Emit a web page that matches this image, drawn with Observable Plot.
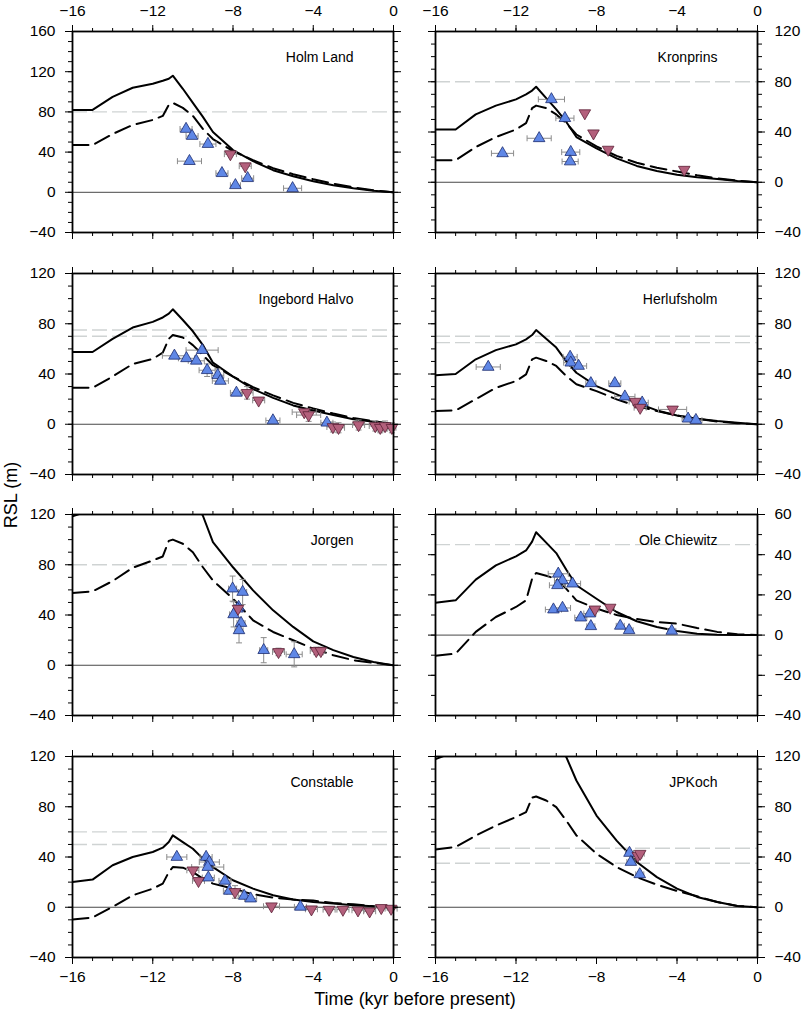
<!DOCTYPE html>
<html><head><meta charset="utf-8">
<script src="https://cdn.jsdelivr.net/npm/d3@7"></script>
<script src="https://cdn.jsdelivr.net/npm/@observablehq/plot@0.6"></script>
<style>
body{margin:0;background:#fff;font-family:"Liberation Sans",Arial,sans-serif;}
#root{position:relative;width:802px;height:1012px;overflow:hidden;}
#root svg{position:absolute;}
.lab{position:absolute;font-size:18px;color:#000;white-space:nowrap;}
</style></head><body><div id="root"></div>
<script>
// Model time grid (kyr before present)
const T = [-16,-15,-14,-13,-12,-11.5,-11.2,-11,-10.5,-10,-9.5,-9,-8,-7,-6,-5,-4,-3,-2,-1,0];

// Panel names
const names = ["Holm Land","Kronprins","Ingebord Halvo","Herlufsholm","Jorgen","Ole Chiewitz","Constable","JPKoch"];

// Model curves: solid and dashed, values at T
const holmSolid = [82,82,95,104,108,111,113,116,103,89,75,60,42,31,22,16,11,7,4,1.5,0];
const holmDash  = [47,47,58,67,72,76,87,89,84,76,63,53,41,32,24,18,13,8.5,5,2,0];
const kronSolid = [42,42,54,61,66,70,73,76,67,58,48,36,27,19,13,9,6,4,2.5,1,0];
const kronDash  = [17.5,17.5,28,36,42,47,59,61,59,54,47,38,28.5,21,15.5,11.5,8.5,5.5,3,1.3,0];
const ingeSolid = [57.5,57.5,68,77,81.5,85,88,91.5,83,74,63,49,38,28,21,15,11,7.3,4,2,0];
const ingeDash  = [29,29,38,48,52,57,68,71,69,63,55,47,38,29.5,23,17,12.5,8.5,5,2.5,0];
const herlSolid = [39,40,51.7,59,63.6,67.6,71,75,68,61,50,41,30.4,23.8,17,11,7,4.4,2.5,1.2,0];
const herlDash  = [10.5,11,20,29,34.4,39.7,51.7,53,50.4,46.4,38.4,31.8,26.4,19.8,14.5,10.5,7,4.4,2.2,0.8,0];
const jorgSolid = [118.5,124,138,148,154,158,162,165,150,134,119,98,78,59.6,43.7,30.5,19,12,6.6,2.6,0];
const jorgDash  = [57.5,58.8,67,77.6,83.4,86.6,99,100,96.7,90,78,67.5,53,35.8,26.5,19.9,13.2,8,4,1.9,0];
const oleSolid  = [16.1,17.3,27.6,34.7,39.2,42.1,46.5,51.2,46,40.8,32.5,24.8,18.1,11.5,6.9,4,2,0.7,0.2,0.1,0];
const oleDash   = [-10.3,-9.2,1.6,9,14,17.3,28,30.9,29.5,28,23,17.3,13.2,10,8,6.5,5.7,3.5,1.6,0.4,0];
const consSolid = [20.1,22,33.4,40,44,47.4,52,57.2,51.9,46.6,38.7,32,21.5,14.8,9.5,6.1,4.2,2.9,1.6,0.8,0];
const consDash  = [-9.8,-8.2,0.3,9.5,14.8,18.8,28,32,31.5,28,22.8,18.8,14.8,10.3,7.7,6.1,5.3,3.4,2.4,0.8,0];
const jpkSolid  = [117.9,124,135,145,152,156,160,163,148,133,119.5,100.9,73,53,36,24,14.8,8.2,4.2,1,0];
const jpkDash   = [46,48,57,65,71.8,75.8,87.2,88.2,85,79.7,69,57.2,42.6,32,24,18,13,8.7,4.2,1,0];

// Observations: [time kyr, RSL m, time error, RSL error]
const holmUp = [[-10.34,63,0.3,0],[-10.04,56,0.3,0],[-9.25,48,0.4,0],[-10.17,31,0.6,0],[-8.55,19,0.3,0],[-7.88,7,0.25,0],[-7.27,14,0.3,0],[-5.03,4,0.45,0]];
const holmDown = [[-8.13,38,0.3,0],[-7.39,26,0.3,0]];
const kronUp = [[-12.67,23,0.55,0],[-10.85,35,0.6,0],[-10.24,66,0.65,0],[-9.57,51,0.45,0],[-9.28,24,0.45,0],[-9.31,16.5,0.4,0]];
const kronDown = [[-8.58,55,0,0],[-8.15,39,0,0],[-7.42,26,0,0],[-3.64,10,0,0]];
const ingeUp = [[-10.92,54.5,0.6,0],[-10.32,52.5,0.4,0],[-9.83,50.5,0.4,0],[-9.54,59,0.8,0],[-9.29,43,0.4,5],[-8.76,39,0.3,5],[-8.63,34.5,0.4,0],[-7.83,25,0.3,0],[-6.01,3,0.35,0],[-3.32,1.2,0.3,0]];
const ingeDown = [[-7.3,25,0.3,5],[-6.72,19,0.3,0],[-4.45,9.7,0.6,0],[-4.23,7.3,0.6,5],[-3.02,-2.2,0.3,4],[-2.74,-2.8,0.3,4],[-1.74,-0.6,0.3,4],[-0.91,-1.4,0.3,4],[-0.66,-2.8,0.2,4],[-0.42,-1.4,0.3,4],[-0.08,-2.8,0.2,4]];
const herlUp = [[-13.38,45.6,0.6,0],[-9.31,53.6,0.35,0],[-9.28,49,0.35,0],[-8.89,46.4,0.4,0],[-8.28,32.6,0.25,0],[-7.09,32.6,0.3,0],[-6.59,22,0.5,0],[-5.73,17.2,0.3,0],[-3.45,4.4,0.3,0],[-3.06,3.3,0.3,0]];
const herlDown = [[-6.08,18,0.3,0],[-5.83,13.2,0.3,0],[-4.22,11.8,0.7,0]];
const jorgUp = [[-8.02,61,0.2,10],[-7.52,58.3,0.2,10],[-7.72,46.4,0.2,0],[-7.77,45,0.2,0],[-7.97,40.5,0.2,10],[-7.6,33.6,0.2,0],[-7.7,27.8,0.2,10],[-6.47,12,0.2,10],[-4.95,8.7,0.4,10]];
const jorgDown = [[-7.75,45,0.2,0],[-5.73,10.6,0.3,3],[-3.85,11.4,0.3,3],[-3.62,11.4,0.2,3]];
const oleUp = [[-9.9,30.5,0.5,0],[-9.69,27.2,0.4,0],[-9.94,24.8,0.4,0],[-9.19,25.6,0.4,0],[-10.14,12.7,0.4,0],[-9.69,13.5,0.4,0],[-8.78,8.7,0.3,0],[-8.33,10.7,0.3,0],[-8.28,4.4,0.2,0],[-6.82,4.6,0.2,0],[-6.38,2.4,0.2,0],[-4.26,2.1,0.2,0]];
const oleDown = [[-8.08,12.8,0.2,0],[-7.32,13.7,0.2,0]];
const consUp = [[-10.8,40,0.5,0],[-9.34,40,0.3,0],[-9.18,36,0.5,0],[-9.26,32,0.8,0],[-9.23,23.6,0.3,0],[-8.4,21,0.3,0],[-8.18,13,0.3,0],[-7.44,9,0.3,0],[-7.12,6.9,0.3,0],[-4.64,0.3,0.3,0]];
const consDown = [[-10.0,29.4,0.3,0],[-9.72,21,0.3,0],[-7.9,12.2,0.4,5],[-6.08,0.8,0.4,0],[-4.09,-1.6,0.3,0],[-3.21,-1.9,0.3,0],[-2.52,-1.9,0.3,0],[-1.77,-2.4,0.3,0],[-1.19,-3.2,0.3,0],[-0.61,-0.5,0.3,0],[-0.12,-1.1,0.3,0]];
const jpkUp = [[-6.36,43.2,0.2,0],[-6.29,36,0.2,0],[-5.85,26.2,0.2,0]];
const jpkDown = [[-5.95,41,0.2,0],[-5.83,42.6,0.2,0]];

// Grey dashed reference levels
const holmRef = [80], kronRef = [80], ingeRef = [75,70], herlRef = [70,65], jorgRef = [80], oleRef = [45], consRef = [60,50], jpkRef = [47,35];

// y-axis domains and label steps
const yDomains = [[-40,160],[-40,120],[-40,120],[-40,120],[-40,120],[-40,60],[-40,120],[-40,120]];
const yLabelSteps = [40,40,40,40,40,20,40,40];
const xLabelTicks = [-16,-12,-8,-4,0];

const panels = [
  [holmSolid,holmDash,holmUp,holmDown,holmRef],
  [kronSolid,kronDash,kronUp,kronDown,kronRef],
  [ingeSolid,ingeDash,ingeUp,ingeDown,ingeRef],
  [herlSolid,herlDash,herlUp,herlDown,herlRef],
  [jorgSolid,jorgDash,jorgUp,jorgDown,jorgRef],
  [oleSolid,oleDash,oleUp,oleDown,oleRef],
  [consSolid,consDash,consUp,consDown,consRef],
  [jpkSolid,jpkDash,jpkUp,jpkDown,jpkRef]
].map((a,i) => ({name:names[i], solid:a[0], dash:a[1], up:a[2], down:a[3], refs:a[4], yDomain:yDomains[i], yStep:yLabelSteps[i]}));

const fmt = d => d < 0 ? "\u2212" + (-d) : String(d);
const blank = () => "";
const vbar = {draw(ctx){ ctx.moveTo(0,-3); ctx.lineTo(0,3); }};
const hbar = {draw(ctx){ ctx.moveTo(-3,0); ctx.lineTo(3,0); }};
const downTri = {draw(ctx, size){
  const y = Math.sqrt(size / (Math.sqrt(3) * 3));
  ctx.moveTo(0, 2*y); ctx.lineTo(-Math.sqrt(3)*y, -y); ctx.lineTo(Math.sqrt(3)*y, -y); ctx.closePath();
}};

const frameTops = [31, 273, 514, 756];
const FH = 201, MT = 31, MB = 35;
const root = document.getElementById("root");
const errColor = "#8c8c8c";
const upFill = "#5f87e6", upStroke = "#1d2c6e";
const dnFill = "#b3607c", dnStroke = "#5c2036";

function errMarks(pts) {
  const h = pts.filter(d => d[2] > 0), v = pts.filter(d => d[3] > 0);
  return [
    Plot.link(h, {x1: d => d[0]-d[2], x2: d => d[0]+d[2], y1: d => d[1], y2: d => d[1], stroke: errColor, strokeWidth: 1}),
    Plot.dot(h, {x: d => d[0]-d[2], y: d => d[1], symbol: vbar, fill: "none", stroke: errColor, strokeWidth: 1}),
    Plot.dot(h, {x: d => d[0]+d[2], y: d => d[1], symbol: vbar, fill: "none", stroke: errColor, strokeWidth: 1}),
    Plot.link(v, {x1: d => d[0], x2: d => d[0], y1: d => d[1]-d[3], y2: d => d[1]+d[3], stroke: errColor, strokeWidth: 1}),
    Plot.dot(v, {x: d => d[0], y: d => d[1]-d[3], symbol: hbar, fill: "none", stroke: errColor, strokeWidth: 1}),
    Plot.dot(v, {x: d => d[0], y: d => d[1]+d[3], symbol: hbar, fill: "none", stroke: errColor, strokeWidth: 1})
  ];
}

panels.forEach((p, i) => {
  const row = Math.floor(i / 2), col = i % 2;
  const [y0, y1] = p.yDomain;
  const yMajor = d3.range(y0, y1 + 1e-9, p.yStep);
  const yMinor = d3.range(y0, y1 + 1e-9, 10);
  const xMinor = d3.range(-16, 0.001, 1);
  const left = col === 0;
  const W = left ? 400 : 402;
  const ML = left ? 72 : 35, MR = left ? 7 : 45;
  const chart = Plot.plot({
    width: W, height: MT + FH + MB,
    marginTop: MT, marginBottom: MB, marginLeft: ML, marginRight: MR,
    x: {domain: [-16, 0], axis: null, label: null},
    y: {domain: [y0, y1], axis: null, label: null},
    style: {background: "transparent", fontSize: "15.5px", fontFamily: "'Liberation Sans', Arial, sans-serif", overflow: "visible", color: "black"},
    marks: [
      Plot.ruleY(p.refs, {stroke: "#cfd3d3", strokeWidth: 1.4, strokeDasharray: "15,5"}),
      Plot.ruleY([0], {stroke: "#333", strokeWidth: 0.9}),
      Plot.line(p.solid, {x: (d, j) => T[j], y: d => d, stroke: "black", strokeWidth: 2, clip: true}),
      Plot.line(p.dash, {x: (d, j) => T[j], y: d => d, stroke: "black", strokeWidth: 2, strokeDasharray: "16,7", clip: true}),
      ...errMarks(p.up.concat(p.down)),
      Plot.dot(p.up, {x: d => d[0], y: d => d[1], symbol: "triangle", r: 4.3, fill: upFill, stroke: upStroke, strokeWidth: 0.8}),
      Plot.dot(p.down, {x: d => d[0], y: d => d[1], symbol: downTri, r: 4.3, fill: dnFill, stroke: dnStroke, strokeWidth: 0.8}),
      Plot.text([p.name], {frameAnchor: "top-right", dx: -40, dy: 26, textAnchor: "end", lineAnchor: "middle", fontSize: 14}),
      Plot.axisX({anchor: "top", ticks: xLabelTicks, tickSize: 7, tickPadding: 9, tickFormat: row === 0 ? fmt : blank, label: null}),
      Plot.axisX({anchor: "top", ticks: xMinor, tickSize: 4, tickFormat: blank, label: null}),
      Plot.axisX({anchor: "bottom", ticks: xLabelTicks, tickSize: 7, tickPadding: 6, tickFormat: row === 3 ? fmt : blank, label: null}),
      Plot.axisX({anchor: "bottom", ticks: xMinor, tickSize: 4, tickFormat: blank, label: null}),
      Plot.axisY({anchor: "left", ticks: yMajor, tickSize: 7, tickPadding: 10, tickFormat: left ? fmt : blank, label: null}),
      Plot.axisY({anchor: "left", ticks: yMinor, tickSize: 4, tickFormat: blank, label: null}),
      Plot.axisY({anchor: "right", ticks: yMajor, tickSize: 7, tickPadding: 10, tickFormat: left ? blank : fmt, label: null}),
      Plot.axisY({anchor: "right", ticks: yMinor, tickSize: 4, tickFormat: blank, label: null}),
      Plot.frame({stroke: "black", strokeWidth: 1.8})
    ]
  });
  chart.style.left = (left ? 0 : 400) + "px";
  chart.style.top = (frameTops[row] - MT) + "px";
  root.appendChild(chart);
});

const yl = document.createElement("div");
yl.className = "lab"; yl.textContent = "RSL (m)";
yl.style.left = "11px"; yl.style.top = "495px";
yl.style.transform = "translate(-50%,-50%) rotate(-90deg)";
root.appendChild(yl);
const xl = document.createElement("div");
xl.className = "lab"; xl.textContent = "Time (kyr before present)";
xl.style.left = "415px"; xl.style.top = "999px";
xl.style.transform = "translate(-50%,-50%)";
root.appendChild(xl);
</script></body></html>
